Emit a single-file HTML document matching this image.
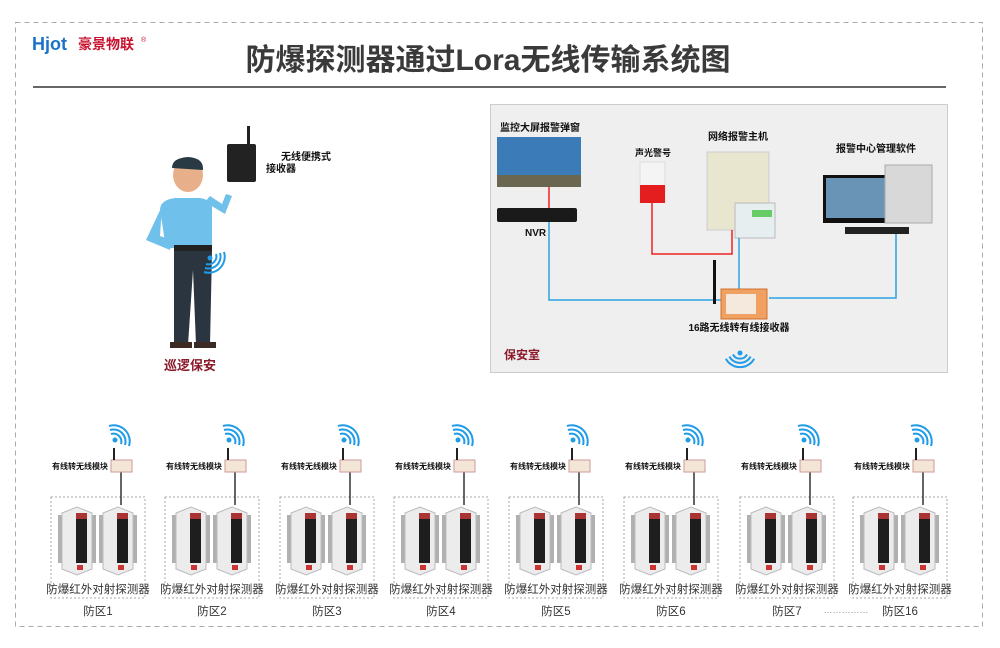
<!DOCTYPE html>
<html><head><meta charset="utf-8"><style>
body{margin:0;background:#fff;}
svg{display:block;font-family:"Liberation Sans","Noto Sans CJK SC",sans-serif;}
</style></head><body>
<svg width="1000" height="648" viewBox="0 0 1000 648" xmlns="http://www.w3.org/2000/svg">
<defs>
<g id="wifi" fill="none" stroke="#1f9be8" stroke-width="2">
 <circle cx="0" cy="0" r="2.5" fill="#1f9be8" stroke="none"/>
 <path d="M-4,-6 A8,8 0 0 1 6,4"/>
 <path d="M-5,-10 A12,12 0 0 1 10,5"/>
 <path d="M-6,-14 A16,16 0 0 1 14,6"/>
</g>
<g id="det">
 <rect x="-4" y="8" width="5" height="48" fill="#b0b0b0"/>
 <rect x="29" y="8" width="5" height="48" fill="#b0b0b0"/>
 <path d="M0,6 L15,0 L30,6 L30,62 L15,68 L0,62 Z" fill="#ececec" stroke="#bbb"/>
 <rect x="14" y="12" width="11" height="44" fill="#1e1e1e"/>
 <rect x="14" y="6" width="11" height="6" fill="#a33"/>
 <rect x="15" y="58" width="6" height="5" fill="#c33"/>
</g>
<g id="zone">
 <rect x="0" y="0" width="94" height="101" fill="none" stroke="#aaa" stroke-dasharray="2,2"/>
 <use href="#det" x="11" y="10"/>
 <use href="#det" x="52" y="10"/>
 <line x1="70" y1="-25" x2="70" y2="8" stroke="#333" stroke-width="1.5"/>
 <rect x="60" y="-37" width="21" height="12" fill="#f3e6d6" stroke="#c99" />
 <line x1="63" y1="-49" x2="63" y2="-37" stroke="#222" stroke-width="2"/>
 <use href="#wifi" x="64" y="-57"/>
</g>
</defs>

<rect x="15.5" y="22.5" width="967" height="604" fill="none" stroke="#aaa" stroke-dasharray="5,4"/>
<text x="32" y="50" font-size="18" font-weight="bold" fill="#1a73c7">Hjot</text>
<text x="78" y="49" font-size="14" font-weight="bold" fill="#c8102e">豪景物联</text>
<text x="141" y="42" font-size="7" fill="#c8102e">®</text>
<text x="488" y="70" font-size="30" font-weight="bold" fill="#3a3a3a" text-anchor="middle">防爆探测器通过Lora无线传输系统图</text>
<line x1="33" y1="87" x2="946" y2="87" stroke="#333" stroke-width="1.5"/>

<!-- guard -->
<rect x="227" y="144" width="29" height="38" fill="#222" rx="2"/>
<rect x="247" y="126" width="3" height="18" fill="#222"/>
<text x="281" y="160" font-size="10" font-weight="bold" fill="#111">无线便携式</text>
<text x="266" y="172" font-size="10" font-weight="bold" fill="#111">接收器</text>
<ellipse cx="188" cy="175" rx="15" ry="17" fill="#e7b08a"/>
<path d="M172,168 Q172,158 188,157 Q204,158 203,170 Z" fill="#2a3a44"/>
<path d="M160,210 Q160,200 175,198 L200,198 Q213,200 212,210 L212,248 L166,248 Z" fill="#6fc0ea"/>
<path d="M162,206 L146,240 L170,250 L172,240 L160,236 Z" fill="#6fc0ea"/>
<path d="M205,202 L225,214 L232,196 L226,194 L222,204 L210,196 Z" fill="#6fc0ea"/>
<rect x="174" y="245" width="38" height="6" fill="#222"/>
<path d="M174,251 L212,251 L210,345 L196,345 L193,270 L188,345 L174,345 Z" fill="#2a3540"/>
<rect x="170" y="342" width="22" height="6" fill="#3a2a22"/>
<rect x="194" y="342" width="22" height="6" fill="#3a2a22"/>
<use href="#wifi" x="210" y="258" transform="rotate(90 210 258)"/>
<text x="190" y="370" font-size="13" font-weight="bold" fill="#8b1a2b" text-anchor="middle">巡逻保安</text>

<!-- security room -->
<rect x="490.5" y="104.5" width="457" height="268" fill="#efefef" stroke="#ccc"/>
<text x="500" y="131" font-size="10" font-weight="bold" fill="#111">监控大屏报警弹窗</text>
<rect x="497" y="137" width="84" height="50" fill="#3b7bb8"/>
<rect x="497" y="175" width="84" height="12" fill="#6a6650"/>
<rect x="497" y="208" width="80" height="14" fill="#1a1a1a" rx="2"/>
<line x1="549" y1="187" x2="549" y2="208" stroke="#e22" stroke-width="1.5"/>
<text x="525" y="236" font-size="10" font-weight="bold" fill="#111">NVR</text>
<text x="635" y="156" font-size="9" font-weight="bold" fill="#111">声光警号</text>
<rect x="640" y="162" width="25" height="40" fill="#f4f4f4" stroke="#ddd"/>
<rect x="640" y="185" width="25" height="18" fill="#e41e1e"/>
<text x="708" y="140" font-size="10" font-weight="bold" fill="#111">网络报警主机</text>
<rect x="707" y="152" width="62" height="78" fill="#e9e6cf" stroke="#ccc"/>
<rect x="735" y="203" width="40" height="35" fill="#e6eef0" stroke="#bbb"/>
<rect x="752" y="210" width="20" height="7" fill="#6c6"/>
<text x="836" y="152" font-size="10" font-weight="bold" fill="#111">报警中心管理软件</text>
<rect x="823" y="175" width="74" height="48" fill="#111"/>
<rect x="826" y="178" width="68" height="40" fill="#6a94b6"/>
<rect x="885" y="165" width="47" height="58" fill="#d8d8d8" stroke="#aaa"/>
<rect x="845" y="227" width="64" height="7" fill="#222"/>
<polyline points="549,222 549,300 723,300" fill="none" stroke="#2aa4e2" stroke-width="1.5"/>
<polyline points="652,203 652,254 732,254 732,230" fill="none" stroke="#e22" stroke-width="1.5"/>
<line x1="739" y1="238" x2="739" y2="290" stroke="#2aa4e2" stroke-width="1.5"/>
<polyline points="769,298 896,298 896,234" fill="none" stroke="#2aa4e2" stroke-width="1.5"/>
<rect x="713" y="260" width="3" height="44" fill="#111"/>
<rect x="721" y="289" width="46" height="30" fill="#f0a060" stroke="#d07030"/>
<rect x="726" y="294" width="30" height="20" fill="#f5e8dc"/>
<text x="739" y="331" font-size="10" font-weight="bold" fill="#111" text-anchor="middle">16路无线转有线接收器</text>
<text x="504" y="359" font-size="12" font-weight="bold" fill="#8b1a2b">保安室</text>
<use href="#wifi" x="740" y="353" transform="rotate(135 740 353)"/>

<!-- zones -->
<g font-size="11.5" fill="#333" text-anchor="middle">
<use href="#zone" x="51" y="497"/><use href="#zone" x="165" y="497"/><use href="#zone" x="280" y="497"/><use href="#zone" x="394" y="497"/>
<use href="#zone" x="509" y="497"/><use href="#zone" x="624" y="497"/><use href="#zone" x="740" y="497"/><use href="#zone" x="853" y="497"/>
<text x="98" y="593">防爆红外对射探测器</text><text x="212" y="593">防爆红外对射探测器</text><text x="327" y="593">防爆红外对射探测器</text><text x="441" y="593">防爆红外对射探测器</text>
<text x="556" y="593">防爆红外对射探测器</text><text x="671" y="593">防爆红外对射探测器</text><text x="787" y="593">防爆红外对射探测器</text><text x="900" y="593">防爆红外对射探测器</text>
<text x="98" y="615">防区1</text><text x="212" y="615">防区2</text><text x="327" y="615">防区3</text><text x="441" y="615">防区4</text>
<text x="556" y="615">防区5</text><text x="671" y="615">防区6</text><text x="787" y="615">防区7</text><text x="900" y="615">防区16</text>
<text x="846" y="613" font-size="9" fill="#888">……………</text>
</g>
<g font-size="8" font-weight="bold" fill="#111" text-anchor="end">
<text x="108" y="469">有线转无线模块</text><text x="222" y="469">有线转无线模块</text><text x="337" y="469">有线转无线模块</text><text x="451" y="469">有线转无线模块</text>
<text x="566" y="469">有线转无线模块</text><text x="681" y="469">有线转无线模块</text><text x="797" y="469">有线转无线模块</text><text x="910" y="469">有线转无线模块</text>
</g>
</svg>
</body></html>
